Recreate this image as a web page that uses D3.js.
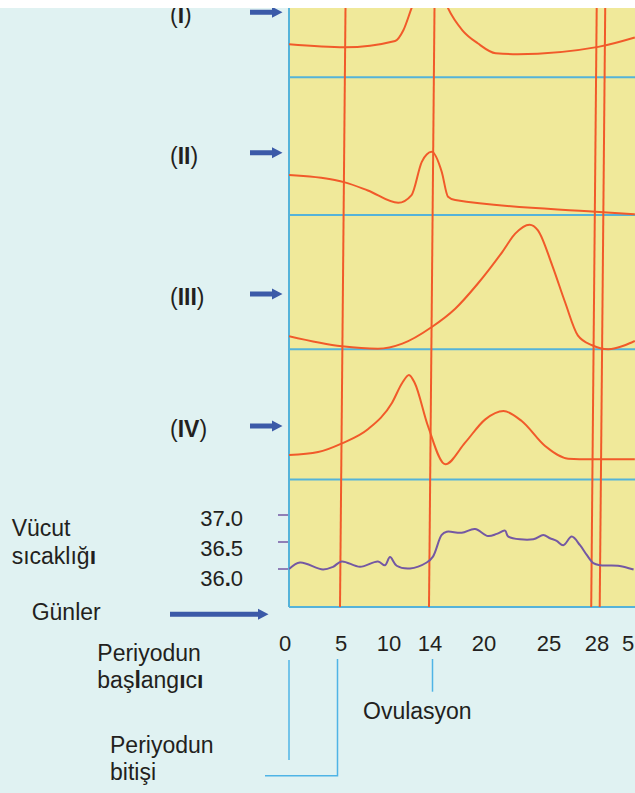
<!DOCTYPE html>
<html>
<head>
<meta charset="utf-8">
<script src="https://cdn.jsdelivr.net/npm/d3@7/dist/d3.min.js"></script>
<style>
  body { margin: 0; background: #e0f2f2; }
  svg { display: block; }
  text { font-family: "Liberation Sans", Arial, sans-serif; fill: #231f20; }
</style>
</head>
<body>
<div id="chart"></div>
<script>
var width = 635;
var height = 793;

// days on the axis (the last "5" is day 5 of the next cycle)
var dayTicks = [0, 5, 10, 14, 20, 25, 28, 33];
var dayLabels = ["0", "5", "10", "14", "20", "25", "28", "5"];
var markerDays = [5, 14, 27.7, 28.6];

var panelNames = ["I", "II", "III", "IV"];

// hormone levels, relative units 0-100 per panel : [day, level]
var hormoneI = [[0, 23.9], [5.4, 21.7], [10.6, 26.3], [11.4, 34], [12.2, 50], [14.1, 85],
    [16, 50], [17.6, 34], [19.3, 24.6], [20.9, 17.4], [22.6, 16.7], [28.2, 22], [34.1, 28.8]];
var hormoneII = [[0, 29], [4.4, 25.4], [5.4, 23.7], [7.8, 17.8], [10.9, 8.9], [12.2, 14.5],
    [13.2, 38.6], [14.2, 45.9], [15.3, 31.4], [16, 13.3], [16.8, 10.9], [27.9, 2.4], [34.1, 0.5]];
var hormoneIII = [[0, 9.7], [5.1, 2.2], [8.85, 0.4], [11.3, 4.2], [14.2, 16.6], [16.8, 30.2],
    [19.3, 48.8], [21.4, 72.4], [22.4, 86.1], [23.5, 92.8], [24.15, 88.6], [25.2, 62.5],
    [26, 35.2], [26.8, 10.4], [27.7, 3], [29.8, 0], [32.5, 3], [34.1, 6.2]];
var hormoneIV = [[0, 18.8], [2.8, 21.1], [5.1, 27.8], [7.8, 38.6], [10.3, 59], [11.3, 74.3],
    [11.95, 80.3], [12.5, 74.3], [13.8, 41.1], [15.7, 11.7], [17.9, 28.3], [20.1, 46.2],
    [21.5, 52.6], [22.9, 44.9], [24.7, 25.7], [26.2, 16], [27.6, 15.5], [34.1, 15.5]];

// body temperature, degrees C : [day, temp]
var tempTicks = [36.0, 36.5, 37.0];
var temperature = [[0, 36.00], [1.06, 36.12], [3.27, 35.99], [4.23, 36.04], [5.07, 36.14],
    [6.98, 36.04], [8.85, 36.14], [9.58, 36.07], [10.1, 36.22], [10.75, 36.06], [12.05, 36.01],
    [13.68, 36.12], [14.33, 36.23], [15.3, 36.63], [15.86, 36.69], [17.52, 36.67], [19, 36.74],
    [20.31, 36.61], [20.98, 36.65], [21.62, 36.71], [21.87, 36.60], [23.79, 36.55], [24.56, 36.63],
    [25.06, 36.57], [25.48, 36.52], [25.89, 36.44], [26.42, 36.60], [26.94, 36.44], [27.36, 36.26],
    [27.77, 36.11], [28.5, 36.07], [31.4, 36.06], [33.9, 35.99]];

var plotLeft = 289, plotRight = 635, plotTop = 8, plotBottom = 607;
var bandEdges = [-61, 77.3, 215, 349.3, 479.5];
var arrowY = [12.3, 152.7, 294, 426];

var blue = "#55b3d9", red = "#f15a2a", purple = "#7458a3", arrowBlue = "#3b5aa8";

var svg = d3.select("#chart")
    .append("svg")
    .attr("width", width)
    .attr("height", height);

svg.append("defs").append("clipPath")
    .attr("id", "plotClip")
    .append("rect")
    .attr("x", plotLeft).attr("y", plotTop)
    .attr("width", plotRight - plotLeft).attr("height", plotBottom - plotTop);

var x = d3.scaleLinear()
    .domain(dayTicks)
    .range([289, 341, 389, 430, 484, 549, 597, 628]);

var yTemp = d3.scaleLinear().domain([36, 37]).range([569, 515]);
var yTempLabel = d3.scaleLinear().domain([36, 37]).range([586, 525.7]);

// yellow plot area
svg.append("rect")
    .attr("x", plotLeft).attr("y", plotTop)
    .attr("width", plotRight - plotLeft).attr("height", plotBottom - plotTop)
    .attr("fill", "#f0e99a");

// blue frame lines
svg.append("g")
    .selectAll("line")
    .data(bandEdges.slice(1).concat([plotBottom]))
    .enter()
        .append("line")
        .attr("x1", plotLeft).attr("x2", plotRight)
        .attr("y1", function(d){ return d; })
        .attr("y2", function(d){ return d; })
        .attr("stroke", blue)
        .attr("stroke-width", 2);

svg.append("line")
    .attr("x1", plotLeft).attr("x2", plotLeft)
    .attr("y1", plotTop).attr("y2", plotBottom)
    .attr("stroke", blue)
    .attr("stroke-width", 2);

// red day markers (slightly slanted, as drawn)
svg.append("g")
    .selectAll("line")
    .data(markerDays)
    .enter()
        .append("line")
        .attr("x1", function(d){ return x(d) + 4.5; })
        .attr("x2", function(d){ return x(d) - 1; })
        .attr("y1", plotTop).attr("y2", plotBottom)
        .attr("stroke", red)
        .attr("stroke-width", 2);

// hormone curves
var hormones = [hormoneI, hormoneII, hormoneIII, hormoneIV];
var curves = svg.append("g").attr("clip-path", "url(#plotClip)");

hormones.forEach(function(series, i){
    var y = d3.scaleLinear()
        .domain([0, 100])
        .range([bandEdges[i + 1], bandEdges[i]]);
    var line = d3.line()
        .x(function(d){ return x(d[0]); })
        .y(function(d){ return y(d[1]); })
        .curve(d3.curveMonotoneX);
    curves.append("path")
        .datum(series)
        .attr("d", line)
        .attr("fill", "none")
        .attr("stroke", red)
        .attr("stroke-width", 2);
});

// temperature
var tempLine = d3.line()
    .x(function(d){ return x(d[0]); })
    .y(function(d){ return yTemp(d[1]); })
    .curve(d3.curveCatmullRom);

curves.append("path")
    .datum(temperature)
    .attr("d", tempLine)
    .attr("fill", "none")
    .attr("stroke", purple)
    .attr("stroke-width", 2);

svg.append("g")
    .selectAll("line")
    .data(tempTicks)
    .enter()
        .append("line")
        .attr("x1", 278).attr("x2", plotLeft - 1)
        .attr("y1", function(d){ return yTemp(d); })
        .attr("y2", function(d){ return yTemp(d); })
        .attr("stroke", purple)
        .attr("stroke-width", 1.5);

svg.append("g")
    .selectAll("text")
    .data(tempTicks)
    .enter()
        .append("text")
        .attr("x", 243)
        .attr("y", function(d){ return yTempLabel(d); })
        .attr("text-anchor", "end")
        .attr("font-size", 22)
        .html(function(d){
            var s = d.toFixed(1).split(".");
            return s[0] + '<tspan font-weight="bold">.</tspan>' + s[1];
        });

// day labels
svg.append("g")
    .selectAll("text")
    .data(dayTicks)
    .enter()
        .append("text")
        .attr("x", function(d, i){ return x(d) - (i === 0 ? 4 : 0); })
        .attr("y", 651)
        .attr("text-anchor", "middle")
        .attr("font-size", 22)
        .attr("fill", "#2a2a2a")
        .text(function(d, i){ return dayLabels[i]; });

// panel labels and arrows
function arrow(x0, x1, y){
    return "M" + x0 + "," + (y - 2.5) + "H" + (x1 - 10.5) + "V" + (y - 5.5) +
        "L" + x1 + "," + y + "L" + (x1 - 10.5) + "," + (y + 5.5) + "V" + (y + 2.5) +
        "H" + x0 + "Z";
}

svg.append("g")
    .selectAll("path")
    .data(arrowY)
    .enter()
        .append("path")
        .attr("d", function(d){ return arrow(250, 282.5, d); })
        .attr("fill", arrowBlue);

svg.append("g")
    .selectAll("text")
    .data(panelNames)
    .enter()
        .append("text")
        .attr("x", 170)
        .attr("y", function(d, i){ return arrowY[i] + 11; })
        .attr("font-size", 23)
        .html(function(d){ return '(<tspan font-weight="bold">' + d + '</tspan>)'; });

svg.append("path")
    .attr("d", arrow(170, 268.5, 614.3))
    .attr("fill", arrowBlue);

// side texts
var notes = svg.append("g").attr("font-size", 23);
notes.append("text").attr("x", 11.7).attr("y", 535.7).text("Vücut");
notes.append("text").attr("x", 11.7).attr("y", 564.3)
    .html('sıcaklığ<tspan font-weight="bold">ı</tspan>');
notes.append("text").attr("x", 31.7).attr("y", 620).text("Günler");
notes.append("text").attr("x", 97.3).attr("y", 661).text("Periyodun");
notes.append("text").attr("x", 97.3).attr("y", 688.3)
    .html('baş<tspan font-weight="bold">l</tspan>ang<tspan font-weight="bold">ı</tspan>c<tspan font-weight="bold">ı</tspan>');
notes.append("text").attr("x", 363).attr("y", 719.3).text("Ovulasyon");
notes.append("text").attr("x", 110).attr("y", 753.3).text("Periyodun");
notes.append("text").attr("x", 110).attr("y", 780).text("bitişi");

// pointer lines under the axis
var pointers = svg.append("g")
    .attr("fill", "none")
    .attr("stroke", "#4fb4e6")
    .attr("stroke-width", 1.5);
pointers.append("path").attr("d", "M" + x(0) + ",660V760");
pointers.append("path").attr("d", "M" + (x(5) - 3.5) + ",659V775.7H265");
pointers.append("path").attr("d", "M" + (x(14) + 2.5) + ",659V691.7");

// white strip along the top edge
svg.append("rect")
    .attr("x", 0).attr("y", 0)
    .attr("width", width).attr("height", plotTop)
    .attr("fill", "#fff");
</script>
</body>
</html>
